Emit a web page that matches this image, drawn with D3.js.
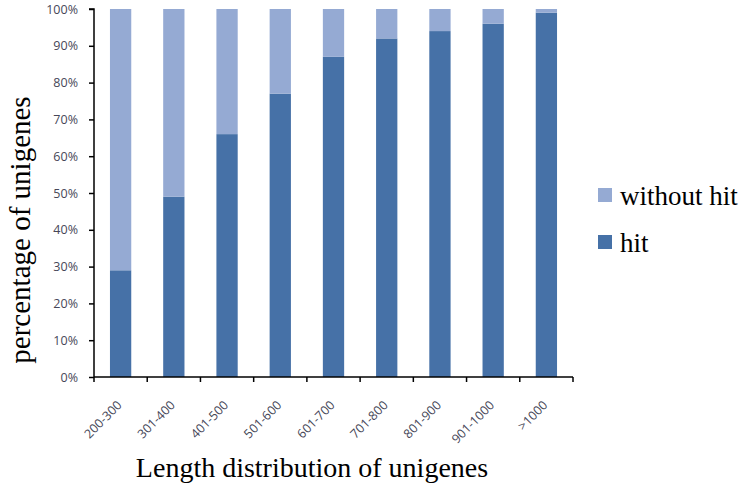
<!DOCTYPE html>
<html><head><meta charset="utf-8">
<script src="https://cdn.jsdelivr.net/npm/d3@7"></script>
<style>body{margin:0;background:#fff}svg{display:block}</style>
</head><body>
<script>
const categories = ["200-300","301-400","401-500","501-600","601-700","701-800","801-900","901-1000",">1000"];
const hit = [29, 49, 66, 77, 87, 92, 94, 96, 99];
const withoutHit = hit.map(v => 100 - v);
const seriesNames = ["without hit", "hit"];
const yTicks = [0,10,20,30,40,50,60,70,80,90,100];

const W = 746, H = 489;
const m = {left: 94, top: 9, right: 173, bottom: 112};
const svg = d3.select("body").append("svg").attr("width", W).attr("height", H);

const x = d3.scaleBand().domain(categories).range([m.left, W - m.right]).paddingInner(0.6).paddingOuter(0.3);
const y = d3.scaleLinear().domain([0, 100]).range([H - m.bottom, m.top]);
const colors = {"hit": "#4671a7", "without hit": "#95aad3"};

const data = categories.map((c, i) => ({cat: c, hit: hit[i], "without hit": withoutHit[i]}));
const stack = d3.stack().keys(["hit", "without hit"])(data);

svg.append("g").selectAll("g").data(stack).join("g")
  .attr("fill", d => colors[d.key])
  .selectAll("rect").data(d => d).join("rect")
  .attr("x", d => x(d.data.cat))
  .attr("width", x.bandwidth())
  .attr("y", d => y(d[1]))
  .attr("height", d => y(d[0]) - y(d[1]));

const tickFont = "'Open Sans', 'Liberation Sans', sans-serif";

// Y axis
const yAxis = d3.axisLeft(y).tickValues(yTicks).tickFormat(d => d + "%").tickSize(5).tickPadding(11);
const gy = svg.append("g").attr("transform", `translate(${m.left},0)`).call(yAxis);
gy.select(".domain").attr("stroke", "#000").attr("stroke-width", 1.5).attr("d", `M-5,${y(100)}H0V${y(0)}`);
gy.selectAll(".tick line").attr("stroke", "#000").attr("stroke-width", 1.5);
gy.selectAll("text").attr("font-family", tickFont).attr("font-size", 12.5).attr("fill", "#474758");

// X axis
const x0 = m.left, x1 = W - m.right;
const gx = svg.append("g");
gx.append("line").attr("x1", x0).attr("x2", x1).attr("y1", y(0)).attr("y2", y(0)).attr("stroke", "#000").attr("stroke-width", 1.5);
gx.selectAll("line.tk").data(d3.range(categories.length + 1)).join("line").attr("class", "tk")
  .attr("x1", i => x0 + (x1 - x0) * i / categories.length)
  .attr("x2", i => x0 + (x1 - x0) * i / categories.length)
  .attr("y1", y(0)).attr("y2", y(0) + 5).attr("stroke", "#000").attr("stroke-width", 1.5);
gx.selectAll("text").data(categories).join("text")
  .attr("transform", d => `translate(${x(d) + x.bandwidth() / 2 + 2},${y(0) + 29}) rotate(-45)`)
  .attr("text-anchor", "end")
  .attr("font-family", tickFont).attr("font-size", 12.5).attr("fill", "#474758")
  .text(d => d);

// Axis titles
svg.append("text").attr("transform", `translate(30,230) rotate(-90)`).attr("text-anchor", "middle")
  .attr("font-family", "'Liberation Serif', serif").attr("font-size", 29).attr("fill", "#000")
  .text("percentage of unigenes");
svg.append("text").attr("x", 312).attr("y", 477).attr("text-anchor", "middle")
  .attr("font-family", "'Liberation Serif', serif").attr("font-size", 28).attr("fill", "#000")
  .text("Length distribution of unigenes");

// Legend
const lg = svg.append("g").selectAll("g").data(seriesNames).join("g")
  .attr("transform", (d, i) => `translate(598,${188 + i * 47})`);
lg.append("rect").attr("width", 14).attr("height", 14).attr("fill", d => colors[d]);
lg.append("text").attr("x", 22).attr("y", 17).attr("font-family", "'Liberation Serif', serif").attr("font-size", 27).attr("fill", "#000").text(d => d);
</script>
</body></html>
